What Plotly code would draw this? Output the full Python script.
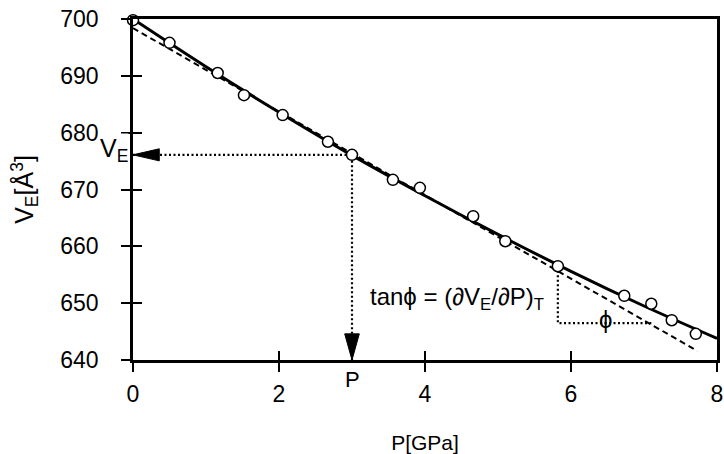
import plotly.graph_objects as go

# ---------------- data ----------------
P_obs = [0.0, 0.50, 1.16, 1.52, 2.05, 2.67, 3.00, 3.56, 3.93, 4.66, 5.10, 5.82, 6.73, 7.10, 7.38, 7.71]
V_obs = [699.8, 695.8, 690.5, 686.6, 683.1, 678.4, 676.1, 671.7, 670.3, 665.3, 660.9, 656.5, 651.3, 649.9, 647.0, 644.6]

P_fit = [0, 1, 2, 3, 4, 5, 6, 7, 8]
V_fit = [700.0, 691.6, 683.6, 676.0, 668.9, 662.1, 655.6, 649.5, 643.8]

P_tan = [0.0, 7.73]
V_tan = [698.4, 641.6]

P_mark, V_mark = 3.0, 676.1          # read-off point (P, V_E)
P_tri, V_tri_top, V_tri_base, P_tri_end = 5.82, 656.5, 646.5, 7.10

x_ticks = [0, 2, 4, 6, 8]
y_ticks = [640, 650, 660, 670, 680, 690, 700]
x_range = [0, 8]
y_range = [640, 700]

FONT = "Liberation Sans, Arial, sans-serif"

fig = go.Figure()

# dotted guide lines
fig.add_trace(go.Scatter(x=[x_range[0], P_mark, P_mark], y=[V_mark, V_mark, y_range[0]],
                         mode="lines", line=dict(color="black", width=2.2, dash="2px,2.5px"),
                         hoverinfo="skip", showlegend=False))
fig.add_trace(go.Scatter(x=[P_tri, P_tri, P_tri_end], y=[V_tri_top, V_tri_base, V_tri_base],
                         mode="lines", line=dict(color="black", width=2.2, dash="2px,2.5px"),
                         hoverinfo="skip", showlegend=False))

# arrow heads
ah_len_x, ah_half_y = 0.36, 1.06
fig.add_trace(go.Scatter(x=[x_range[0], x_range[0] + ah_len_x, x_range[0] + ah_len_x, x_range[0]],
                         y=[V_mark, V_mark + ah_half_y, V_mark - ah_half_y, V_mark],
                         mode="lines", fill="toself", fillcolor="black",
                         line=dict(color="black", width=1), hoverinfo="skip", showlegend=False))
av_len_y, av_half_x = 4.6, 0.10
fig.add_trace(go.Scatter(x=[P_mark, P_mark - av_half_x, P_mark + av_half_x, P_mark],
                         y=[y_range[0], y_range[0] + av_len_y, y_range[0] + av_len_y, y_range[0]],
                         mode="lines", fill="toself", fillcolor="black",
                         line=dict(color="black", width=1), hoverinfo="skip", showlegend=False))

# tangent (dashed)
fig.add_trace(go.Scatter(x=P_tan, y=V_tan, mode="lines",
                         line=dict(color="black", width=2, dash="6px,4px"),
                         hoverinfo="skip", showlegend=False))
# fitted curve
fig.add_trace(go.Scatter(x=P_fit, y=V_fit, mode="lines", line=dict(color="black", width=3, shape="spline"),
                         showlegend=False))
# observations
fig.add_trace(go.Scatter(x=P_obs, y=V_obs, mode="markers", cliponaxis=False,
                         marker=dict(symbol="circle", size=11, color="white",
                                     line=dict(color="black", width=1.5)),
                         showlegend=False))

# invisible trace for overlay axes (inside ticks)
fig.add_trace(go.Scatter(x=[None], y=[None], xaxis="x2", yaxis="y2", showlegend=False))

axis_common = dict(showgrid=False, zeroline=False, linecolor="black", linewidth=2.5,
                   tickcolor="black", tickwidth=2, ticklen=9, ticks="outside",
                   automargin=False, ticklabeloverflow="allow",
                   tickfont=dict(family=FONT, size=23, color="black"), mirror=True, showline=True)
overlay_common = dict(ticks="inside", ticklen=9, tickwidth=2, tickcolor="black",
                      showticklabels=False, showline=False, showgrid=False, zeroline=False,
                      automargin=False)

fig.update_layout(
    width=724, height=454,
    margin=dict(l=133, r=7, t=19, b=94),
    paper_bgcolor="white", plot_bgcolor="white",
    font=dict(family=FONT, color="black"),
    xaxis=dict(range=x_range, tickvals=x_ticks, ticklabelstandoff=3,
               title=dict(text="P[GPa]", font=dict(family=FONT, size=21), standoff=31),
               **axis_common),
    yaxis=dict(range=y_range, tickvals=y_ticks, ticklabelstandoff=18,
               title=dict(text="V<sub>E</sub>[Å<sup>3</sup>]", font=dict(family=FONT, size=25), standoff=20),
               **axis_common),
    xaxis2=dict(range=x_range, tickvals=x_ticks, overlaying="x", anchor="y2", **overlay_common),
    yaxis2=dict(range=y_range, tickvals=y_ticks, overlaying="y", anchor="x2", **overlay_common),
)

fig.add_annotation(x=x_range[0], y=V_mark + 0.8, xref="x", yref="y", text="V<sub>E</sub>",
                   showarrow=False, xanchor="right", yanchor="middle", xshift=-4,
                   bgcolor="white", borderpad=0, font=dict(family=FONT, size=25))
fig.add_annotation(x=P_mark, y=y_range[0], xref="x", yref="y", text="P",
                   showarrow=False, xanchor="center", yanchor="top", yshift=-5,
                   font=dict(family=FONT, size=22))
fig.add_annotation(x=P_tri, y=650.8, xref="x", yref="y",
                   text="tanϕ = (∂V<sub>E</sub>/∂P)<sub>T</sub>",
                   showarrow=False, xanchor="right", yanchor="middle", xshift=-12,
                   font=dict(family=FONT, size=24))
fig.add_annotation(x=6.47, y=647.2, xref="x", yref="y", text="ϕ",
                   showarrow=False, xanchor="center", yanchor="middle",
                   font=dict(family=FONT, size=24))

fig.write_html("out.html", config={"displayModeBar": False},
               post_script="document.body.style.margin='0';document.body.style.overflow='hidden';")
